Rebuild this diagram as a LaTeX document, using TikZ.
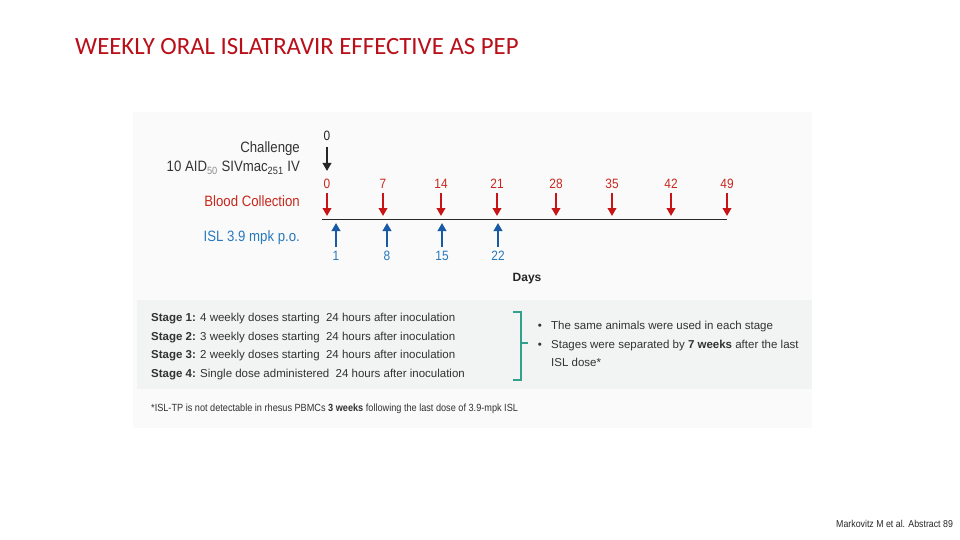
\documentclass[tikz,border=0pt]{standalone}
\usepackage{fontspec}
\setmainfont{Liberation Sans}
\newfontfamily\titlefont{Carlito}
\newfontfamily\condfont[FakeStretch=0.88]{Liberation Sans}
\usetikzlibrary{arrows.meta}
\definecolor{titlered}{RGB}{185,15,25}
\definecolor{bcred}{RGB}{200,40,30}
\definecolor{arrred}{RGB}{200,20,20}
\definecolor{islblue}{RGB}{40,120,190}
\definecolor{arrblue}{RGB}{25,90,165}
\definecolor{brteal}{RGB}{50,160,140}
\definecolor{panelbg}{RGB}{250,250,250}
\definecolor{stagebg}{RGB}{242,243,243}
\definecolor{txtgrey}{RGB}{50,50,50}
\tikzset{
  lbl/.style={inner sep=0pt, anchor=east, font=\condfont\fontsize{15}{17}\selectfont},
  num/.style={inner sep=0pt, font=\condfont\fontsize{13.5}{15}\selectfont},
  redarr/.style={draw=arrred, line width=2pt, -{Triangle[width=8.5pt,length=8pt]}},
  bluearr/.style={draw=arrblue, line width=2pt, -{Triangle[width=8.5pt,length=8pt]}},
  blkarr/.style={draw=black!85, line width=2pt, -{Triangle[width=8.5pt,length=8pt]}},
  stagetxt/.style={inner sep=0pt, anchor=base west, font=\fontsize{11.5}{13}\selectfont, text=txtgrey},
}
\begin{document}
\begin{tikzpicture}[x=1pt,y=-1pt]
\useasboundingbox (0,0) rectangle (960,540);
\fill[white] (0,0) rectangle (960,540);
% title
\node[inner sep=0pt, anchor=base west, text=titlered, font=\titlefont\fontsize{24.8}{27}\selectfont] (title) at (75,55) {WEEKLY ORAL ISLATRAVIR EFFECTIVE AS PEP};
% panels
\fill[panelbg] (133,112) rectangle (812,428);
\fill[stagebg] (137,300) rectangle (812,389);
% left labels
\node[lbl, text=black!80] (chal) at (300,149) {Challenge};
\node[lbl, text=black!80] (aid) at (300,168) {10 AID\textsubscript{\textcolor{black!45}{50}} SIVmac\textsubscript{251} IV};
\node[lbl, text=bcred] (blood) at (300,201) {Blood Collection};
\node[lbl, text=islblue] (isl) at (300,238) {ISL 3.9 mpk p.o.};
% challenge
\node[num, text=black!85] (c0) at (327,136) {0};
\coordinate (c0e) at (327,171);
\draw[blkarr] (327,147) -- (c0e);
% timeline
\coordinate (tl0) at (322,219);
\coordinate (tl1) at (727,219);
\draw[black!85, line width=1pt] (tl0) -- (tl1);
% red
\foreach \x/\n [count=\i] in {327/0,383/7,441/14,497/21,556/28,612/35,671/42,727/49}{
  \node[num, text=bcred] (r\i) at (\x,184) {\n};
  \coordinate (re\i) at (\x,216);
  \draw[redarr] (\x,193) -- (re\i);
}
% blue
\foreach \x/\n [count=\i] in {336/1,387/8,442/15,498/22}{
  \node[num, text=islblue] (b\i) at (\x,256) {\n};
  \coordinate (be\i) at (\x,223);
  \draw[bluearr] (\x,247) -- (be\i);
}
\node[inner sep=0pt, font=\bfseries\fontsize{12}{14}\selectfont, text=black!85] (days) at (527,279) {Days};
% stages
\node[stagetxt] (s1) at (151,321) {\textbf{Stage 1:} 4 weekly doses starting \ 24 hours after inoculation};
\node[stagetxt] (s2) at (151,340) {\textbf{Stage 2:} 3 weekly doses starting \ 24 hours after inoculation};
\node[stagetxt] (s3) at (151,358.5) {\textbf{Stage 3:} 2 weekly doses starting \ 24 hours after inoculation};
\node[stagetxt] (s4) at (151,377) {\textbf{Stage 4:} Single dose administered \ 24 hours after inoculation};
% bracket
\draw[brteal, line width=1.2pt] (513,312) -- (521,312) -- (521,380) -- (513,380);
\coordinate (brm) at (521,343);
\coordinate (brt) at (528,343);
\draw[brteal, line width=1.2pt] (brm) -- (brt);
% bullets
\node[stagetxt, anchor=base] (bu1) at (540,329) {\textbullet};
\node[stagetxt, anchor=base] (bu2) at (540,348) {\textbullet};
\node[stagetxt] (t1) at (551,329) {The same animals were used in each stage};
\node[stagetxt] (t2) at (551,348) {Stages were separated by \textbf{7 weeks} after the last};
\node[stagetxt] (t3) at (551,366) {ISL dose*};
% footnote
\node[stagetxt, font=\condfont\fontsize{10.4}{12}\selectfont] (fn) at (151,411) {*ISL-TP is not detectable in rhesus PBMCs \textbf{3 weeks} following the last dose of 3.9-mpk ISL};
% citation
\node[inner sep=0pt, anchor=base west, font=\condfont\fontsize{10}{11}\selectfont, text=black!85] (cite) at (836,527) {Markovitz M et al. Abstract 89};
\end{tikzpicture}
\end{document}
